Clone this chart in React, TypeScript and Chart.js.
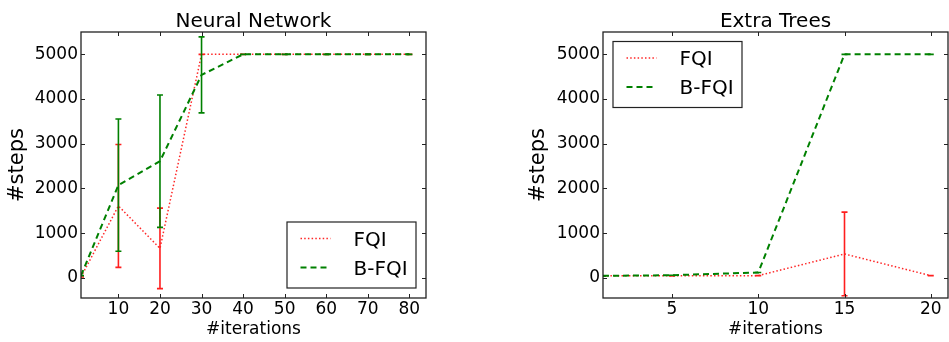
import React, { useEffect, useRef } from "react";
import { Chart, registerables } from "chart.js";
Chart.register(...registerables);

// ---- data ----
const seriesLabels = ["FQI", "B-FQI"];

const nnIterations = [1, 10, 20, 30, 40, 50, 60, 70, 80];
const nnFqi = [20, 1610, 660, 5000, 5000, 5000, 5000, 5000, 5000];
const nnFqiErr = [0, 1375, 900, 0, 0, 0, 0, 0, 0];
const nnBfqi = [50, 2075, 2610, 4540, 5000, 5000, 5000, 5000, 5000];
const nnBfqiErr = [0, 1480, 1480, 850, 0, 0, 0, 0, 0];

const etIterations = [1, 5, 10, 15, 20];
const etFqi = [45, 45, 50, 535, 50];
const etFqiErr = [0, 0, 0, 935, 0];
const etBfqi = [45, 60, 120, 5000, 5000];
const etBfqiErr = [0, 0, 0, 0, 0];

const yTicks = [0, 1000, 2000, 3000, 4000, 5000];
const nnXTicks = [10, 20, 30, 40, 50, 60, 70, 80];
const etXTicks = [5, 10, 15, 20];

const FONT = "'DejaVu Sans', 'Liberation Sans', sans-serif";

const errorBarPlugin = {
  id: "errorBars",
  afterDatasetDraw(chart: any, args: any) {
    const ds = chart.data.datasets[args.index];
    const errs: number[] = ds.errors;
    if (!errs) return;
    const ys = chart.scales.y;
    const a = chart.chartArea;
    const ctx = chart.ctx;
    ctx.save();
    ctx.beginPath();
    ctx.rect(a.left, a.top, a.right - a.left, a.bottom - a.top);
    ctx.clip();
    ctx.strokeStyle = ds.errColor;
    ctx.lineWidth = 1.6;
    ctx.setLineDash([]);
    args.meta.data.forEach((pt: any, i: number) => {
      const e = errs[i];
      if (e == null) return;
      const v = ds.data[i].y;
      const x = pt.x;
      const y1 = ys.getPixelForValue(v - e);
      const y2 = ys.getPixelForValue(v + e);
      ctx.beginPath();
      ctx.moveTo(x, y1);
      ctx.lineTo(x, y2);
      ctx.moveTo(x - 3, y1);
      ctx.lineTo(x + 3, y1);
      ctx.moveTo(x - 3, y2);
      ctx.lineTo(x + 3, y2);
      ctx.stroke();
    });
    ctx.restore();
  },
};

const decoPlugin = {
  id: "deco",
  afterDraw(chart: any, _args: any, opts: any) {
    const ctx = chart.ctx;
    const a = chart.chartArea;
    ctx.save();
    // frame
    ctx.strokeStyle = "#222";
    ctx.lineWidth = 1.3;
    ctx.setLineDash([]);
    ctx.strokeRect(a.left, a.top, a.right - a.left, a.bottom - a.top);
    // inward ticks on all four sides
    ctx.lineWidth = 1;
    const xs = chart.scales.x;
    const ys = chart.scales.y;
    ctx.beginPath();
    xs.ticks.forEach((t: any) => {
      const px = Math.round(xs.getPixelForValue(t.value)) + 0.5;
      ctx.moveTo(px, a.bottom);
      ctx.lineTo(px, a.bottom - 4);
      ctx.moveTo(px, a.top);
      ctx.lineTo(px, a.top + 4);
    });
    ys.ticks.forEach((t: any) => {
      const py = Math.round(ys.getPixelForValue(t.value)) + 0.5;
      ctx.moveTo(a.left, py);
      ctx.lineTo(a.left + 4, py);
      ctx.moveTo(a.right, py);
      ctx.lineTo(a.right - 4, py);
    });
    ctx.stroke();
    // title
    ctx.fillStyle = "#000";
    ctx.font = `20px ${FONT}`;
    ctx.textAlign = "center";
    ctx.textBaseline = "alphabetic";
    ctx.fillText(opts.title, (a.left + a.right) / 2, 27);
    // legend
    const bw = 129;
    const bh = 66;
    let bx: number, by: number;
    if (opts.corner === "br") {
      bx = a.right - 10 - bw;
      by = a.bottom - 10 - bh;
    } else {
      bx = a.left + 10;
      by = a.top + 9.5;
    }
    ctx.fillStyle = "#fff";
    ctx.fillRect(bx, by, bw, bh);
    ctx.strokeStyle = "#222";
    ctx.lineWidth = 1.2;
    ctx.strokeRect(bx, by, bw, bh);
    chart.data.datasets.forEach((ds: any, i: number) => {
      const ly = by + 16.5 + i * 29;
      ctx.strokeStyle = ds.borderColor;
      ctx.lineWidth = ds.borderWidth;
      ctx.setLineDash(ds.borderDash || []);
      ctx.beginPath();
      ctx.moveTo(bx + 13.5, ly);
      ctx.lineTo(bx + 43.5, ly);
      ctx.stroke();
      ctx.setLineDash([]);
      ctx.fillStyle = "#000";
      ctx.font = `20px ${FONT}`;
      ctx.textAlign = "left";
      ctx.textBaseline = "alphabetic";
      ctx.fillText(ds.label, bx + 66.5, ly + 7.3);
    });
    ctx.restore();
  },
};

function makeConfig(
  xs: number[],
  fqi: number[],
  fqiErr: number[],
  bfqi: number[],
  bfqiErr: number[],
  xTicks: number[],
  xMax: number,
  title: string,
  corner: string,
  yAxisWidth: number,
  padRight: number,
  yTitlePad: number
): any {
  return {
    type: "line",
    data: {
      datasets: [
        {
          label: seriesLabels[0],
          data: xs.map((x, i) => ({ x, y: fqi[i] })),
          errors: fqiErr,
          errColor: "rgb(255,30,30)",
          borderColor: "rgba(255,0,0,0.85)",
          borderWidth: 1.5,
          borderDash: [1.5, 2.2],
          pointRadius: 0,
          fill: false,
          tension: 0,
          order: 1,
        },
        {
          label: seriesLabels[1],
          data: xs.map((x, i) => ({ x, y: bfqi[i] })),
          errors: bfqiErr,
          errColor: "#008000",
          borderColor: "#008000",
          borderWidth: 2,
          borderDash: [6, 4],
          pointRadius: 0,
          fill: false,
          tension: 0,
          order: 0,
        },
      ],
    },
    options: {
      animation: false,
      responsive: false,
      events: [],
      layout: { padding: { left: 0, right: padRight, top: 32, bottom: 0 } },
      plugins: {
        legend: { display: false },
        tooltip: { enabled: false },
        title: { display: false },
        deco: { title, corner },
      },
      scales: {
        x: {
          type: "linear",
          min: 1,
          max: xMax,
          grid: { display: false, drawTicks: false },
          border: { display: false },
          ticks: {
            font: { size: 17, family: FONT },
            color: "#000",
            padding: 1,
            includeBounds: false,
            maxRotation: 0,
            callback: (v: any) => String(v),
          },
          afterBuildTicks: (s: any) => {
            s.ticks = xTicks.map((v) => ({ value: v }));
          },
          afterFit: (s: any) => {
            s.height = 44;
          },
          title: {
            display: true,
            text: "#iterations",
            font: { size: 17, family: FONT },
            color: "#000",
            padding: { top: 0, bottom: 2.7 },
          },
        },
        y: {
          type: "linear",
          min: -450,
          max: 5500,
          grid: { display: false, drawTicks: false },
          border: { display: false },
          ticks: {
            font: { size: 17, family: FONT },
            color: "#000",
            padding: 3,
            includeBounds: false,
            callback: (v: any) => String(v),
          },
          afterBuildTicks: (s: any) => {
            s.ticks = yTicks.map((v) => ({ value: v }));
          },
          afterFit: (s: any) => {
            s.width = yAxisWidth;
          },
          title: {
            display: true,
            text: "#steps",
            font: { size: 21, family: FONT },
            color: "#000",
            padding: { top: yTitlePad, bottom: 0 },
          },
        },
      },
    },
    plugins: [errorBarPlugin, decoPlugin],
  };
}

export default function App() {
  const leftRef = useRef<HTMLCanvasElement>(null);
  const rightRef = useRef<HTMLCanvasElement>(null);

  useEffect(() => {
    Chart.defaults.font.family = FONT;
    Chart.defaults.color = "#000";
    const c1 = new Chart(
      leftRef.current as HTMLCanvasElement,
      makeConfig(nnIterations, nnFqi, nnFqiErr, nnBfqi, nnBfqiErr, nnXTicks, 84, "Neural Network", "br", 81, 49, 5)
    );
    const c2 = new Chart(
      rightRef.current as HTMLCanvasElement,
      makeConfig(etIterations, etFqi, etFqiErr, etBfqi, etBfqiErr, etXTicks, 21, "Extra Trees", "tl", 128, 1, 51.3)
    );
    return () => {
      c1.destroy();
      c2.destroy();
    };
  }, []);

  return (
    <div style={{ position: "absolute", left: 0, top: 0, width: 949, height: 342, background: "#fff" }}>
      <canvas ref={leftRef} width={475} height={342} style={{ position: "absolute", left: 0, top: 0 }} />
      <canvas ref={rightRef} width={474} height={342} style={{ position: "absolute", left: 475, top: 0 }} />
    </div>
  );
}
